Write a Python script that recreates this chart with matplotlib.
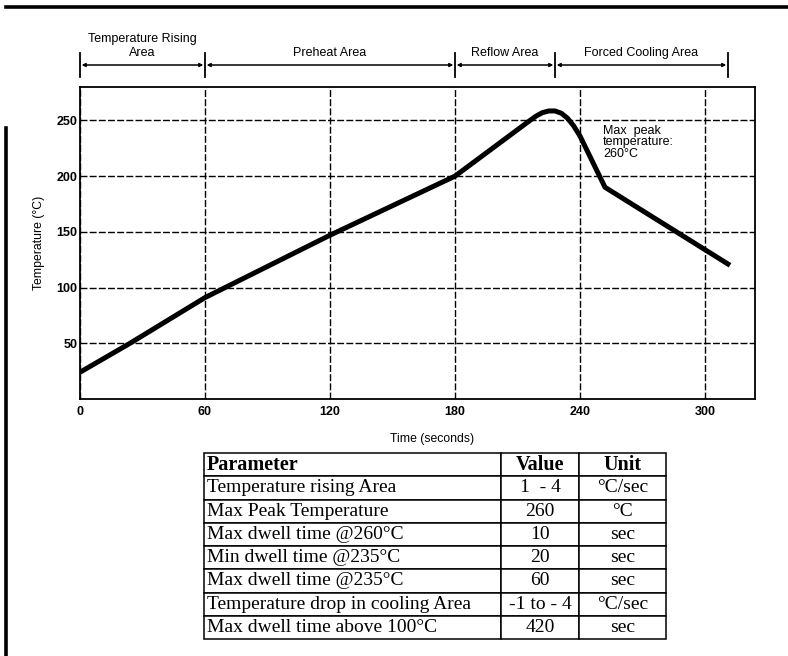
import matplotlib
matplotlib.use("Agg")
import matplotlib.pyplot as plt
from matplotlib.lines import Line2D
import numpy as np

# reflow profile
time_s = [0, 24, 60, 120, 180, 216, 219, 222, 225, 228, 231, 234, 237, 240, 252, 312]
temp_c = [24, 50, 91, 147, 200, 250, 254, 257, 258.5, 258.5, 256.5, 252, 245, 236, 190, 120]

x_ticks = [0, 60, 120, 180, 240, 300]
y_ticks = [50, 100, 150, 200, 250]

# zone limits (seconds) and names shown above the plot
zone_edges = [0, 60, 180, 228, 311]
zone_names = ["Temperature Rising\nArea", "Preheat Area", "Reflow Area", "Forced Cooling Area"]

table_header = ["Parameter", "Value", "Unit"]
table_rows = [
    ["Temperature rising Area", "1  - 4", "°C/sec"],
    ["Max Peak Temperature", "260", "°C"],
    ["Max dwell time @260°C", "10", "sec"],
    ["Min dwell time @235°C", "20", "sec"],
    ["Max dwell time @235°C", "60", "sec"],
    ["Temperature drop in cooling Area", "-1 to - 4", "°C/sec"],
    ["Max dwell time above 100°C", "420", "sec"],
]

W, H = 788, 656
plt.rcParams['font.family'] = ['Liberation Sans', 'DejaVu Sans']

fig = plt.figure(figsize=(W / 100, H / 100), dpi=100)

# plot area in pixels: left 80, top 87, right 755, bottom 399
ax = fig.add_axes([80 / W, (H - 399) / H, 675 / W, 312 / H])
ax.plot(time_s, temp_c, color='black', lw=3.6, solid_joinstyle='round', solid_capstyle='butt', zorder=3)
ax.set_xlim(0, 324)
ax.set_ylim(0, 280)
ax.set_xticks(x_ticks)
ax.set_yticks(y_ticks)
ax.tick_params(length=0, labelsize=9, pad=5)
ax.tick_params(axis='y', pad=2)
for lbl in ax.get_xticklabels() + ax.get_yticklabels():
    lbl.set_fontweight('bold')
ax.grid(True, color='black', linestyle=(0, (5, 1.6)), lw=1.0)
for sp in ax.spines.values():
    sp.set_linewidth(1.3)

ax.set_xlabel("Time (seconds)", fontsize=8.8)
ax.xaxis.set_label_coords(0.521, -0.11)
ax.set_ylabel("Temperature (°C)", fontsize=8.8)
ax.yaxis.set_label_coords(-0.052, 0.5)

ax.text(251, 246, "Max  peak\ntemperature:\n260°C", fontsize=9, va='top', ha='left', linespacing=0.95)

# zone bar above the plot
trans = ax.get_xaxis_transform()
for e in zone_edges:
    ax.plot([e, e], [1.032, 1.109], transform=trans, color='black', lw=1.3, clip_on=False)
for i, name in enumerate(zone_names):
    a, b = zone_edges[i], zone_edges[i + 1]
    ax.annotate("", xy=(a + 0.8, 1.0705), xytext=(b - 0.8, 1.0705), xycoords=trans, textcoords=trans,
                arrowprops=dict(arrowstyle='<|-|>', color='black', lw=1.1, mutation_scale=5,
                                shrinkA=0, shrinkB=0))
    ax.text((a + b) / 2, 1.09, name, transform=trans, ha='center', va='bottom', fontsize=9,
            linespacing=1.25)

# frame of the scanned page
fig.add_artist(Line2D([6 / W, 1], [1 - 7 / H, 1 - 7 / H], transform=fig.transFigure, color='black', lw=2.6))
fig.add_artist(Line2D([6 / W, 6 / W], [0, 1 - 128 / H], transform=fig.transFigure, color='black', lw=2.6))

# parameter table
tax = fig.add_axes([204 / W, (H - 639) / H, 462 / W, 186 / H])
tax.axis('off')
col_w = np.array([297, 78, 87]) / 462
tab = tax.table(cellText=table_rows, colLabels=table_header, colWidths=list(col_w),
                cellLoc='center', bbox=[0, 0, 1, 1])
tab.auto_set_font_size(False)
for (r, c), cell in tab.get_celld().items():
    cell.set_linewidth(1.1)
    txt = cell.get_text()
    txt.set_fontfamily('Liberation Serif')
    txt.set_fontsize(14)
    if r == 0:
        txt.set_fontweight('bold')
        txt.set_fontsize(14.5)
    if c == 0:
        cell._loc = 'left'
        cell.PAD = 0.01
        txt.set_ha('left')

fig.savefig("out.png", dpi=100)
